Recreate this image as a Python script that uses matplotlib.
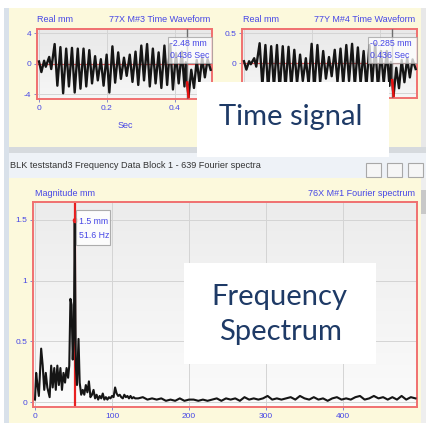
import numpy as np
import matplotlib
matplotlib.use('Agg')
import matplotlib.pyplot as plt
from matplotlib.patches import Rectangle
from matplotlib.colors import LinearSegmentedColormap

W, H = 427, 423

# ---------------- data ----------------
time_s = [0.000, 0.007, 0.015, 0.020, 0.030, 0.036, 0.046, 0.054, 0.063, 0.071,
          0.080, 0.088, 0.097, 0.105, 0.114, 0.122, 0.131, 0.139, 0.148, 0.156,
          0.165, 0.173, 0.182, 0.190, 0.199, 0.207, 0.216, 0.224, 0.233, 0.241,
          0.250, 0.258, 0.267, 0.275, 0.284, 0.292, 0.301, 0.309, 0.318, 0.326,
          0.335, 0.343, 0.352, 0.360, 0.369, 0.377, 0.386, 0.394, 0.403, 0.411,
          0.420, 0.428, 0.432, 0.436, 0.440, 0.448, 0.456, 0.464, 0.472, 0.480,
          0.488, 0.496, 0.505]
wave_77x_mm = [0.3, -1.1, 0.4, -0.4, 0.9, -0.7, 2.6, -2.9, 2.2, -3.9,
               2.0, -3.0, 2.1, -3.8, 2.0, -3.3, 2.0, -3.0, 1.8, -2.6,
               1.0, -2.2, 0.6, -2.9, 1.2, -3.8, 2.3, -2.5, 1.5, -2.0,
               0.8, -1.6, 1.2, -2.4, 1.6, -2.8, 2.4, -2.2, 2.6, -3.0,
               2.0, -2.6, 1.5, -3.2, 2.4, -2.8, 2.6, -3.4, 1.4, -2.6,
               1.6, -3.0, 0.2, -2.48, -4.4, -0.8, -3.2, 0.5, -2.5, 0.8,
               -1.8, 0.6, -0.8]
wave_77y_mm = [0.03, -0.11, 0.03, -0.02, 0.08, -0.06, 0.33, -0.38, 0.30, -0.45,
               0.28, -0.40, 0.30, -0.46, 0.28, -0.42, 0.27, -0.40, 0.22, -0.34,
               0.14, -0.30, 0.08, -0.36, 0.32, -0.45, 0.30, -0.33, 0.20, -0.26,
               0.10, -0.22, 0.22, -0.32, 0.24, -0.36, 0.30, -0.30, 0.32, -0.38,
               0.26, -0.34, 0.20, -0.40, 0.30, -0.36, 0.32, -0.42, 0.20, -0.34,
               0.20, -0.38, 0.02, -0.285, -0.55, -0.08, -0.42, 0.05, -0.32, 0.08,
               -0.24, 0.06, -0.10]
cursor_t = 0.436

spec_hz_low = [0, 1.5, 3, 5, 8, 10, 12, 14, 16, 19,
               21, 23, 25, 27, 29, 31, 33, 35, 37, 39,
               41, 43, 44.5, 46, 47.5, 49, 50.5, 51.6, 53, 54.5,
               56.5, 58, 60, 62, 64, 66, 68, 70, 72, 74,
               76, 78, 80, 82, 84, 86, 88, 90, 92, 94,
               96, 98, 100, 102, 104, 106, 108, 110, 112, 114,
               116, 118, 120, 122, 124, 126, 128, 130]
spec_mm_low = [0.02, 0.24, 0.15, 0.05, 0.44, 0.30, 0.10, 0.24, 0.12, 0.04,
               0.30, 0.12, 0.28, 0.10, 0.30, 0.14, 0.28, 0.10, 0.24, 0.16,
               0.28, 0.20, 0.30, 0.85, 0.80, 0.35, 0.60, 1.50, 0.30, 0.14,
               0.52, 0.16, 0.06, 0.10, 0.06, 0.14, 0.08, 0.17, 0.04, 0.06,
               0.10, 0.03, 0.06, 0.02, 0.05, 0.03, 0.07, 0.02, 0.04, 0.02,
               0.04, 0.03, 0.05, 0.04, 0.12, 0.07, 0.05, 0.06, 0.04, 0.03,
               0.06, 0.04, 0.05, 0.03, 0.05, 0.03, 0.04, 0.03]
spec_hz_tail = [134, 140, 146, 152, 158, 164, 170, 176, 182, 188,
                194, 200, 206, 212, 218, 224, 230, 236, 242, 248,
                254, 260, 266, 272, 278, 284, 290, 296, 302, 308,
                314, 320, 326, 332, 338, 344, 350, 356, 362, 368,
                374, 380, 386, 392, 398, 404, 410, 416, 422, 428,
                434, 440, 446, 452, 458, 464, 470, 476, 482, 488,
                494]
spec_mm_tail = [0.03, 0.04, 0.02, 0.03, 0.02, 0.03, 0.01, 0.02, 0.01, 0.03,
                0.01, 0.02, 0.02, 0.01, 0.02, 0.01, 0.02, 0.03, 0.01, 0.03,
                0.02, 0.03, 0.01, 0.04, 0.02, 0.03, 0.02, 0.03, 0.05, 0.02,
                0.03, 0.02, 0.03, 0.04, 0.02, 0.05, 0.03, 0.02, 0.04, 0.02,
                0.03, 0.01, 0.03, 0.04, 0.02, 0.03, 0.02, 0.04, 0.05, 0.02,
                0.03, 0.05, 0.03, 0.04, 0.02, 0.04, 0.02, 0.05, 0.02, 0.04,
                0.03]
peak_hz = 51.6
peak_mm = 1.5

time_xticks = [0, 0.2, 0.4]
time_xlabels = ['0', '0.2', '0.4']
x_yticks = [-4, 0, 4]
x_ylabels = ['-4', '0', '4']
y_yticks = [-0.5, 0, 0.5]
y_ylabels = ['', '0', '0.5']          # the -0.5 label is covered in the reference
spec_xticks = [0, 100, 200, 300, 400]
spec_xlabels = ['0', '100', '200', '300', '400']
spec_yticks = [0, 0.5, 1, 1.5]
spec_ylabels = ['0', '0.5', '1', '1.5']

spec_hz = spec_hz_low + spec_hz_tail
spec_mm = spec_mm_low + spec_mm_tail

# ---------------- style ----------------
BLUE = '#4646e6'
NAVY = '#1e3a66'
YELLOW = '#fcf9dc'
BOXRED = '#f07070'
SMALL = ['Liberation Sans Narrow', 'Liberation Sans', 'DejaVu Sans']
BIG = ['Lato', 'DejaVu Sans']

fig = plt.figure(figsize=(W / 100, H / 100), dpi=100)
fig.patch.set_facecolor('white')


def rect(x0, y0, x1, y1):
    return [x0 / W, 1 - y1 / H, (x1 - x0) / W, (y1 - y0) / H]


def pix_axes(z):
    a = fig.add_axes([0, 0, 1, 1])
    a.set_xlim(0, W)
    a.set_ylim(H, 0)
    a.axis('off')
    a.set_zorder(z)
    a.patch.set_alpha(0)
    return a


bg = pix_axes(-5)
bg.add_patch(Rectangle((9, 8), 412, 139, fc=YELLOW, ec='none'))
bg.add_patch(Rectangle((4, 8), 5, 415, fc='#d9e1ea', ec='none'))
bg.add_patch(Rectangle((421, 8), 6, 140, fc='#e8e8e8', ec='none'))
bg.add_patch(Rectangle((9, 147), 418, 6, fc='#d6dade', ec='none'))
bg.add_patch(Rectangle((9, 153), 418, 25, fc='#eef2f7', ec='none'))
bg.add_patch(Rectangle((9, 178), 412, 245, fc=YELLOW, ec='none'))
bg.add_patch(Rectangle((421, 178), 6, 245, fc='#eeeeee', ec='none'))
bg.add_patch(Rectangle((421, 190), 6, 24, fc='#c8c8c8', ec='none'))
for bx in (366, 387, 408):
    bg.add_patch(Rectangle((bx, 163), 15, 14, fc='#f6f6f6', ec='#a8a8a8', lw=0.8))
bg.text(10, 166, 'BLK teststand3 Frequency Data Block 1 - 639 Fourier spectra',
        fontsize=6.6, color='#333333', va='center', ha='left', family=SMALL)

bg.text(37, 20, 'Real mm', fontsize=6.5, color=BLUE, va='center', family=SMALL)
bg.text(210, 20, '77X M#3 Time Waveform', fontsize=6.5, color=BLUE, va='center', ha='right', family=SMALL)
bg.text(243, 20, 'Real mm', fontsize=6.5, color=BLUE, va='center', family=SMALL)
bg.text(415, 20, '77Y M#4 Time Waveform', fontsize=6.5, color=BLUE, va='center', ha='right', family=SMALL)
bg.text(125, 126, 'Sec', fontsize=6.5, color=BLUE, va='center', ha='center', family=SMALL)
bg.text(35, 193, 'Magnitude mm', fontsize=6.5, color=BLUE, va='center', family=SMALL)
bg.text(415, 193, '76X M#1 Fourier spectrum', fontsize=6.5, color=BLUE, va='center', ha='right', family=SMALL)


def style(ax, top, bot):
    cm = LinearSegmentedColormap.from_list('g', [top, bot])
    ax.imshow(np.linspace(0, 1, 64)[:, None], extent=(0, 1, 0, 1), transform=ax.transAxes,
              cmap=cm, aspect='auto', zorder=0)
    for s in ax.spines.values():
        s.set_color(BOXRED)
        s.set_linewidth(1.4)
    ax.tick_params(colors='#8888cc', labelcolor=BLUE, labelsize=6, length=2.5, width=0.7, pad=1.5)
    ax.grid(True, color='#d4d4d4', lw=0.7)
    ax.set_axisbelow(True)


# time waveform 77X
ax1 = fig.add_axes(rect(37, 29, 212, 99))
style(ax1, '#e9e9e9', '#f6f6f6')
ax1.axhline(0, color='#e65050', lw=0.9, zorder=2)
ax1.plot(time_s, wave_77x_mm, color='#151515', lw=1.7, zorder=3, solid_joinstyle='round')
ci = time_s.index(cursor_t)
ax1.plot(time_s[ci:ci + 2], wave_77x_mm[ci:ci + 2], color='#e81010', lw=1.8, zorder=4)
ax1.axvline(cursor_t, color='#6e6e6e', lw=1.0, zorder=3.5)
ax1.set_xticks(time_xticks, time_xlabels, family=SMALL)
ax1.set_yticks(x_yticks, x_ylabels, family=SMALL)
ax1.set_xlim(-0.0059, 0.509)
ax1.set_ylim(-4.66, 4.59)

# time waveform 77Y (its x labels are hidden under the caption box in the reference)
ax2 = fig.add_axes(rect(242, 29, 417, 98))
style(ax2, '#e9e9e9', '#f6f6f6')
ax2.axhline(0, color='#e65050', lw=0.9, zorder=2)
ax2.plot(time_s, wave_77y_mm, color='#151515', lw=1.7, zorder=3, solid_joinstyle='round')
ax2.plot(time_s[ci:ci + 2], wave_77y_mm[ci:ci + 2], color='#e81010', lw=1.8, zorder=4)
ax2.axvline(cursor_t, color='#6e6e6e', lw=1.0, zorder=3.5)
ax2.set_xticks(time_xticks, ['', '', ''])
ax2.set_yticks(y_yticks, y_ylabels, family=SMALL)
ax2.set_xlim(-0.0059, 0.509)
ax2.set_ylim(-0.583, 0.567)

# spectrum
ax3 = fig.add_axes(rect(33, 202, 417, 407))
style(ax3, '#ececec', '#fbfbfb')
ax3.axvline(peak_hz, color='#e82020', lw=1.6, zorder=2)
ax3.plot(spec_hz, spec_mm, color='#151515', lw=1.5, zorder=3, solid_joinstyle='round')
ax3.plot([peak_hz], [peak_mm], 'o', color='#e82020', ms=3, zorder=4)
ax3.set_xticks(spec_xticks, spec_xlabels, family=SMALL)
ax3.set_yticks(spec_yticks, spec_ylabels, family=SMALL)
ax3.set_xlim(-2.6, 496)
ax3.set_ylim(-0.041, 1.648)

# overlay: readouts and captions
ov = pix_axes(10)
ov.add_patch(Rectangle((168, 37), 44, 26, fc='white', ec='#a0a0a0', lw=0.8, alpha=0.75))
ov.text(170, 44, f'{wave_77x_mm[ci]} mm', fontsize=6.3, color=BLUE, va='center', family=SMALL)
ov.text(170, 56, f'{cursor_t} Sec', fontsize=6.3, color=BLUE, va='center', family=SMALL)
ov.add_patch(Rectangle((368, 37), 49, 26, fc='white', ec='#a0a0a0', lw=0.8, alpha=0.75))
ov.text(370, 44, f'{wave_77y_mm[ci]} mm', fontsize=6.3, color=BLUE, va='center', family=SMALL)
ov.text(370, 56, f'{cursor_t} Sec', fontsize=6.3, color=BLUE, va='center', family=SMALL)
ov.add_patch(Rectangle((76, 210), 34, 35, fc='white', ec='#a0a0a0', lw=0.8, alpha=0.85))
ov.text(79, 221, f'{peak_mm} mm', fontsize=6.3, color=BLUE, va='center', family=SMALL)
ov.text(79, 235, f'{peak_hz} Hz', fontsize=6.3, color=BLUE, va='center', family=SMALL)

ov.add_patch(Rectangle((197, 82), 192, 75, fc='white', ec='none'))
ov.text(291, 125, 'Time signal', fontsize=21, color=NAVY, ha='center', va='baseline',
        family=BIG, fontweight='normal')
ov.add_patch(Rectangle((184, 263), 192, 101, fc='white', ec='none'))
ov.text(279, 305, 'Frequency', fontsize=21, color=NAVY, ha='center', va='baseline',
        family=BIG, fontweight='normal')
ov.text(280, 340, 'Spectrum', fontsize=21, color=NAVY, ha='center', va='baseline',
        family=BIG, fontweight='normal')

fig.savefig('out.png', dpi=100)
